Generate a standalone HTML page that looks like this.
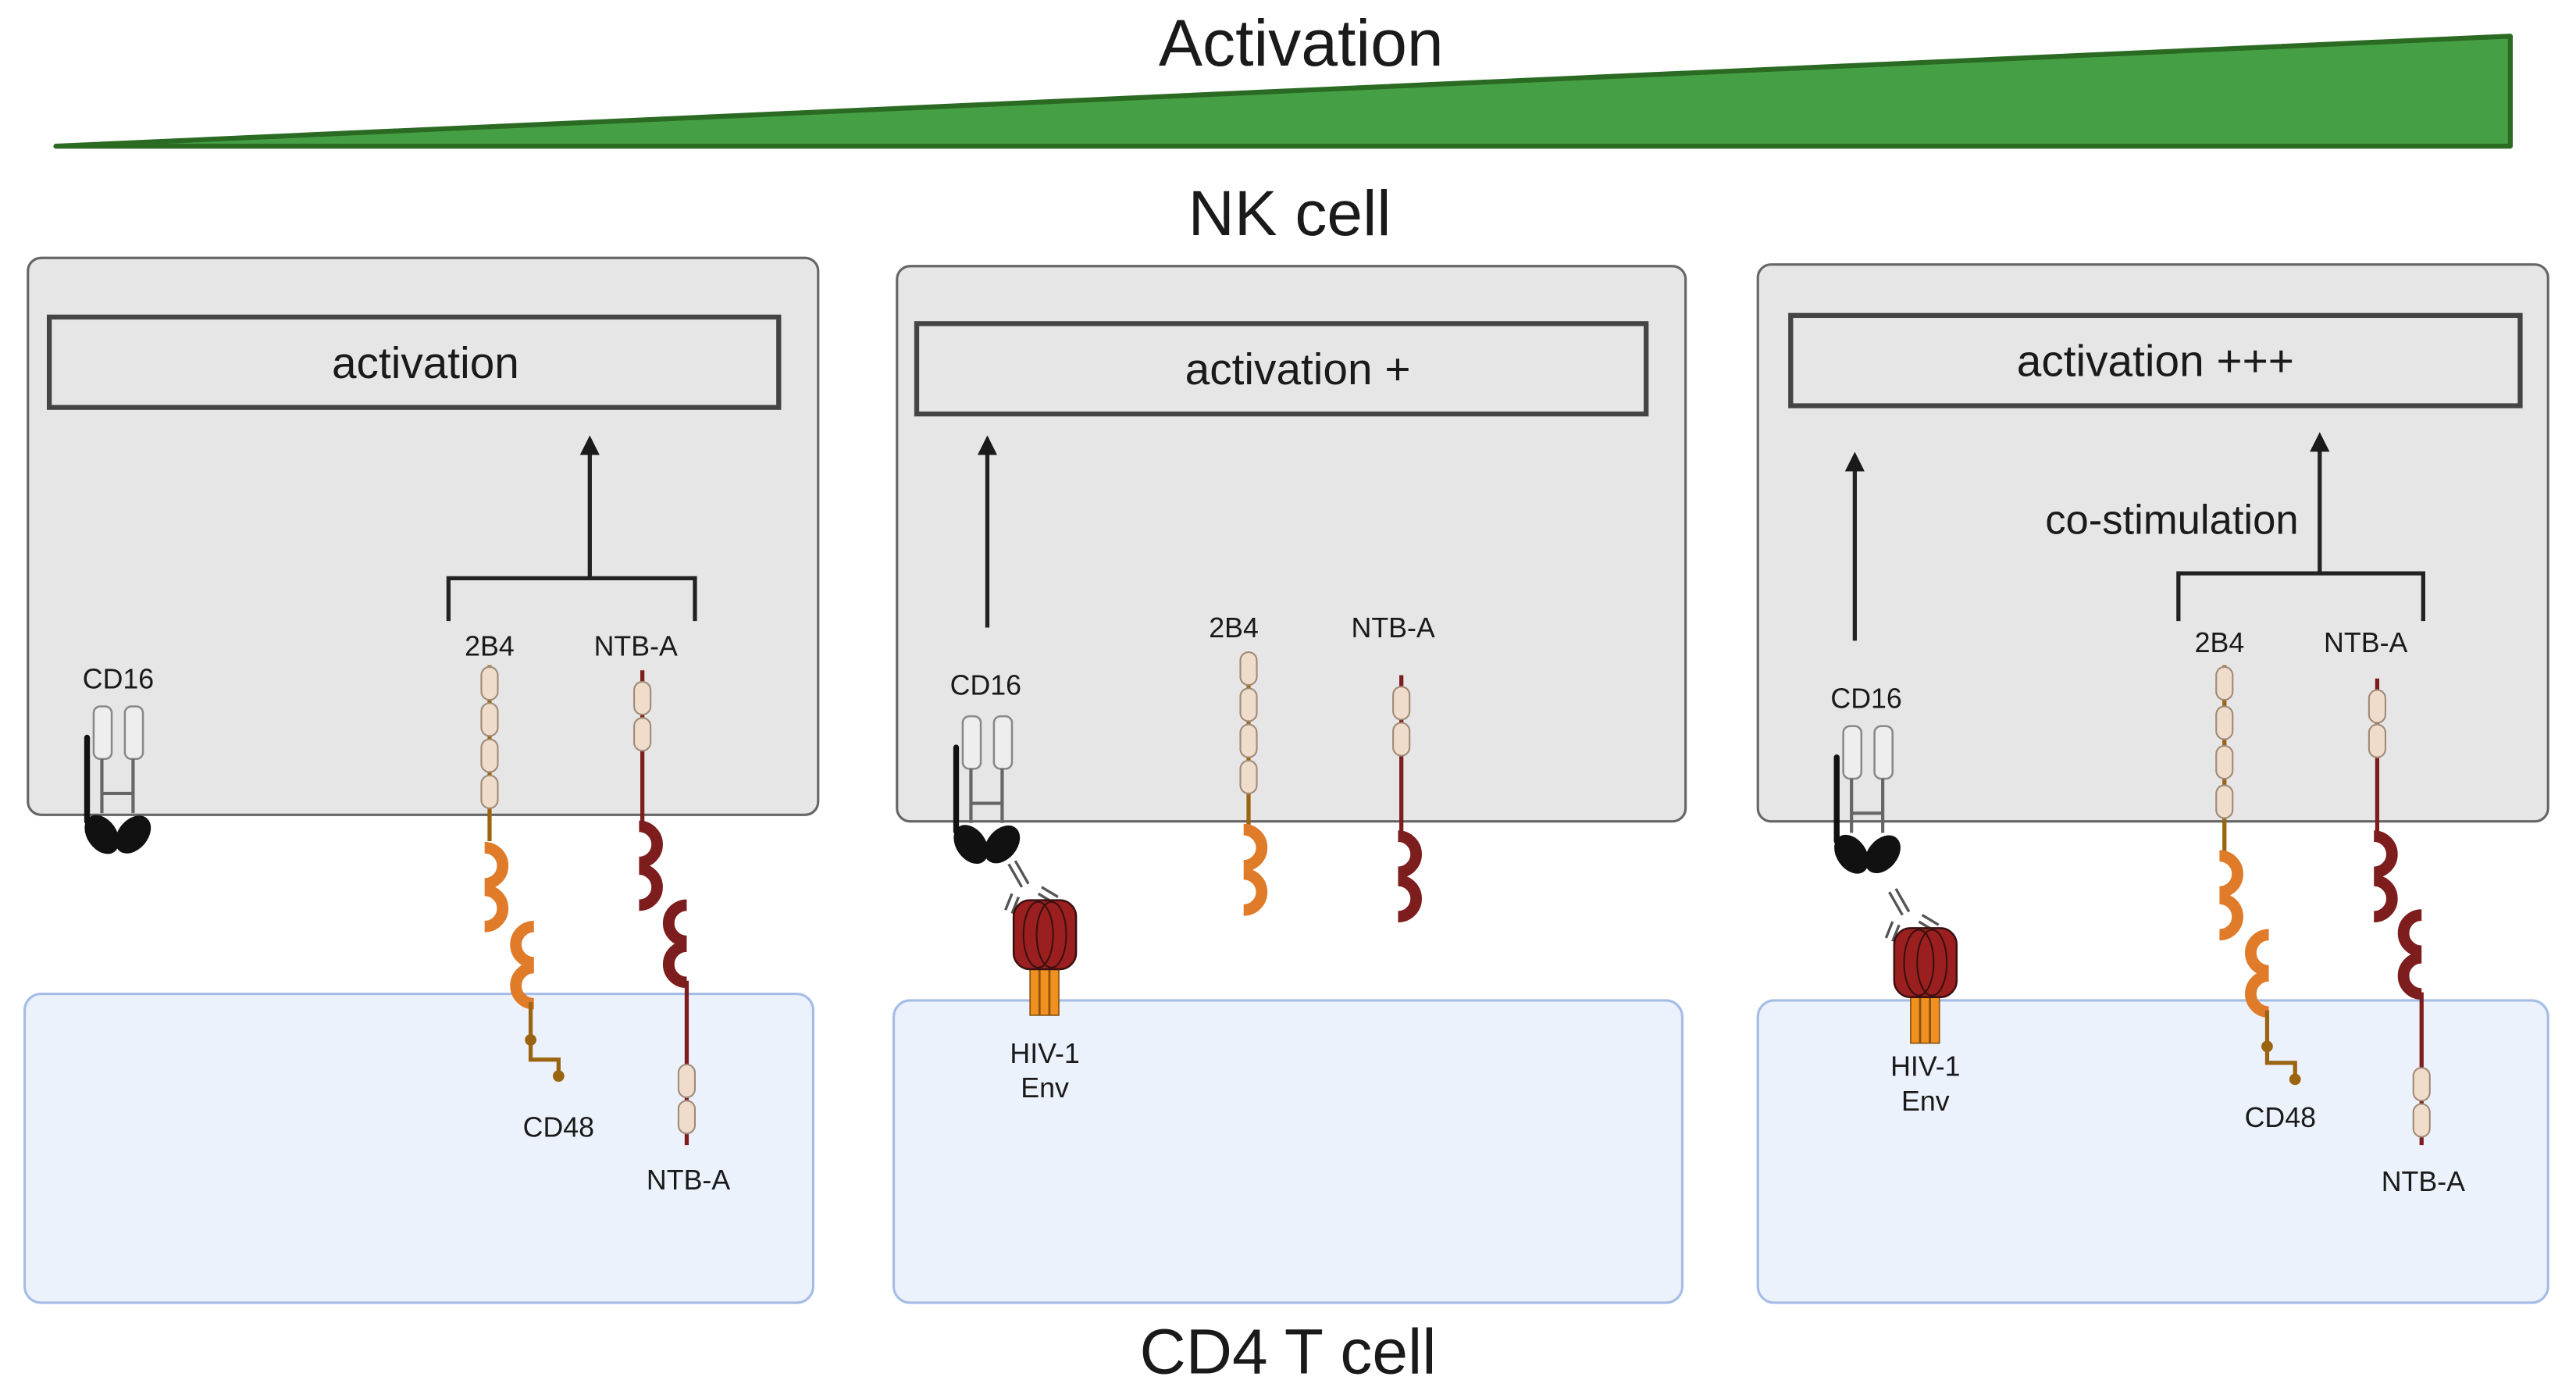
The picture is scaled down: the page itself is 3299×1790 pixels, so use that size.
<!DOCTYPE html>
<html><head><meta charset="utf-8"><style>
html,body{margin:0;padding:0;background:#fff;}
svg{display:block;}
text{font-family:"Liberation Sans",sans-serif;fill:#1a1a1a;}
</style></head><body>
<svg width="3299" height="1790" viewBox="0 0 1568 851" preserveAspectRatio="none" xmlns="http://www.w3.org/2000/svg">
<defs>
<marker id="ah" markerWidth="12" markerHeight="12" refX="5" refY="6" orient="auto" markerUnits="userSpaceOnUse">
<path d="M0,0 L12,6 L0,12 Z" fill="#1a1a1a"/></marker>
<g id="bead"><rect x="-5" y="-10" width="10" height="20" rx="5" fill="#efdccb" stroke="#a08a78" stroke-width="1"/></g>
<g id="cd16">
<rect x="-14" y="-75" width="11" height="32" rx="4" fill="#eee" stroke="#888" stroke-width="1.2"/>
<rect x="5" y="-75" width="11" height="32" rx="4" fill="#eee" stroke="#888" stroke-width="1.2"/>
<path d="M-9,-43 V-10 M10,-43 V-10 M-9,-22 H10" stroke="#666" stroke-width="2" fill="none"/>
<path d="M-18,-56 V-5" stroke="#111" stroke-width="3.5" stroke-linecap="round"/>
<ellipse cx="-9" cy="3" rx="9" ry="13" transform="rotate(-35 -9 3)" fill="#111"/>
<ellipse cx="10" cy="3" rx="9" ry="13" transform="rotate(40 10 3)" fill="#111"/>
</g>
<g id="hiv">
<path d="M-22,-22 L-14,-8 M-18,-24 L-10,-10 M-4,-4 L6,2 M-2,-8 L8,-2 M-20,-4 L-24,6 M-16,-2 L-20,8" stroke="#555" stroke-width="1.6" fill="none"/>
<rect x="-9" y="40" width="5.5" height="30" fill="#f0901e" stroke="#8a5210" stroke-width="0.8"/>
<rect x="-3" y="40" width="5.5" height="30" fill="#f0901e" stroke="#8a5210" stroke-width="0.8"/>
<rect x="3" y="40" width="5.5" height="30" fill="#f0901e" stroke="#8a5210" stroke-width="0.8"/>
<rect x="-19" y="0" width="38" height="42" rx="10" fill="#9b1f1f" stroke="#3a1010" stroke-width="1.2"/>
<ellipse cx="-4" cy="21" rx="9" ry="20" fill="none" stroke="#3a1010" stroke-width="1"/>
<ellipse cx="4" cy="21" rx="9" ry="20" fill="none" stroke="#3a1010" stroke-width="1"/>
</g>
</defs>

<polygon points="34,89 1528,22 1528,89" fill="#45a045" stroke="#2a6a22" stroke-width="3" stroke-linejoin="round"/>
<text x="792" y="40" font-size="40" text-anchor="middle">Activation</text>
<text x="785" y="143" font-size="39" text-anchor="middle">NK cell</text>
<text x="784" y="836" font-size="39" text-anchor="middle">CD4 T cell</text>

<rect x="15" y="605" width="480" height="188" rx="10" fill="#ecf2fb" stroke="#a5bde6" stroke-width="1.5"/>
<rect x="544" y="609" width="480" height="184" rx="10" fill="#ecf2fb" stroke="#a5bde6" stroke-width="1.5"/>
<rect x="1070" y="609" width="481" height="184" rx="10" fill="#ecf2fb" stroke="#a5bde6" stroke-width="1.5"/>

<rect x="17" y="157" width="481" height="339" rx="8" fill="#e6e6e6" stroke="#666" stroke-width="1.5"/>
<rect x="546" y="162" width="480" height="338" rx="8" fill="#e6e6e6" stroke="#666" stroke-width="1.5"/>
<rect x="1070" y="161" width="481" height="339" rx="8" fill="#e6e6e6" stroke="#666" stroke-width="1.5"/>

<rect x="30" y="193" width="444" height="55" fill="#e6e6e6" stroke="#444" stroke-width="3"/>
<text x="259" y="230" font-size="27" text-anchor="middle">activation</text>
<rect x="558" y="197" width="444" height="55" fill="#e6e6e6" stroke="#444" stroke-width="3"/>
<text x="790" y="234" font-size="27" text-anchor="middle">activation +</text>
<rect x="1090" y="192" width="444" height="55" fill="#e6e6e6" stroke="#444" stroke-width="3"/>
<text x="1312" y="229" font-size="27" text-anchor="middle">activation +++</text>

<!-- Panel 1 -->
<path d="M273,378 V352 H423 V378 M359,352 V272" stroke="#222" stroke-width="2.5" fill="none" marker-end="url(#ah)"/>
<text x="298" y="399" font-size="17" text-anchor="middle">2B4</text>
<text x="387" y="399" font-size="17" text-anchor="middle">NTB-A</text>
<text x="72" y="419" font-size="17" text-anchor="middle">CD16</text>
<use href="#cd16" x="71" y="505"/>
<path d="M298,405 V512" stroke="#9a6410" stroke-width="2.5"/>
<use href="#bead" x="298" y="416"/><use href="#bead" x="298" y="438"/><use href="#bead" x="298" y="460"/><use href="#bead" x="298" y="482"/>
<path d="M295,516 A11,11 0 0 1 295,538 M295,542 A11,11 0 0 1 295,564" stroke="#e07b2a" stroke-width="7" fill="none"/>
<path d="M325,564 A11,11 0 0 0 325,586 M325,589 A11,11 0 0 0 325,611" stroke="#e07b2a" stroke-width="7" fill="none"/>
<path d="M323,610 V645 H340 V655" stroke="#9a6410" stroke-width="2.5" fill="none"/>
<circle cx="323" cy="633" r="3.5" fill="#9a6410"/><circle cx="340" cy="655" r="3.5" fill="#9a6410"/>
<text x="340" y="692" font-size="17" text-anchor="middle">CD48</text>
<path d="M391,408 V504" stroke="#7d1d1d" stroke-width="2.5"/>
<use href="#bead" x="391" y="425"/><use href="#bead" x="391" y="447"/>
<path d="M389,503 A11,11 0 0 1 389,525 M389,529 A11,11 0 0 1 389,551" stroke="#7d1d1d" stroke-width="7" fill="none"/>
<path d="M418,551 A11,11 0 0 0 418,573 M418,576 A11,11 0 0 0 418,598" stroke="#7d1d1d" stroke-width="7" fill="none"/>
<path d="M418,597 V697" stroke="#7d1d1d" stroke-width="2.5"/>
<use href="#bead" x="418" y="658"/><use href="#bead" x="418" y="680"/>
<text x="419" y="724" font-size="17" text-anchor="middle">NTB-A</text>

<!-- Panel 2 -->
<path d="M601,382 V272" stroke="#222" stroke-width="2.5" fill="none" marker-end="url(#ah)"/>
<text x="600" y="423" font-size="17" text-anchor="middle">CD16</text>
<use href="#cd16" x="600" y="511"/>
<text x="751" y="388" font-size="17" text-anchor="middle">2B4</text>
<text x="848" y="388" font-size="17" text-anchor="middle">NTB-A</text>
<path d="M760,398 V506" stroke="#9a6410" stroke-width="2.5"/>
<use href="#bead" x="760" y="407"/><use href="#bead" x="760" y="429"/><use href="#bead" x="760" y="451"/><use href="#bead" x="760" y="473"/>
<path d="M757,505 A11,11 0 0 1 757,527 M757,532 A11,11 0 0 1 757,554" stroke="#e07b2a" stroke-width="7" fill="none"/>
<path d="M853,411 V510" stroke="#7d1d1d" stroke-width="2.5"/>
<use href="#bead" x="853" y="428"/><use href="#bead" x="853" y="450"/>
<path d="M851,509 A11,11 0 0 1 851,531 M851,536 A11,11 0 0 1 851,558" stroke="#7d1d1d" stroke-width="7" fill="none"/>
<use href="#hiv" x="636" y="548"/>
<text x="636" y="647" font-size="17" text-anchor="middle">HIV-1</text>
<text x="636" y="668" font-size="17" text-anchor="middle">Env</text>

<!-- Panel 3 -->
<path d="M1129,390 V282" stroke="#222" stroke-width="2.5" fill="none" marker-end="url(#ah)"/>
<path d="M1326,378 V349 H1475 V378 M1412,349 V270" stroke="#222" stroke-width="2.5" fill="none" marker-end="url(#ah)"/>
<text x="1322" y="325" font-size="25" text-anchor="middle">co-stimulation</text>
<text x="1136" y="431" font-size="17" text-anchor="middle">CD16</text>
<use href="#cd16" x="1136" y="517"/>
<text x="1351" y="397" font-size="17" text-anchor="middle">2B4</text>
<text x="1440" y="397" font-size="17" text-anchor="middle">NTB-A</text>
<path d="M1354,405 V518" stroke="#9a6410" stroke-width="2.5"/>
<use href="#bead" x="1354" y="416"/><use href="#bead" x="1354" y="440"/><use href="#bead" x="1354" y="464"/><use href="#bead" x="1354" y="488"/>
<path d="M1351,521 A11,11 0 0 1 1351,543 M1351,547 A11,11 0 0 1 1351,569" stroke="#e07b2a" stroke-width="7" fill="none"/>
<path d="M1381,569 A11,11 0 0 0 1381,591 M1381,594 A11,11 0 0 0 1381,616" stroke="#e07b2a" stroke-width="7" fill="none"/>
<path d="M1380,615 V647 H1397 V657" stroke="#9a6410" stroke-width="2.5" fill="none"/>
<circle cx="1380" cy="637" r="3.5" fill="#9a6410"/><circle cx="1397" cy="657" r="3.5" fill="#9a6410"/>
<text x="1388" y="686" font-size="17" text-anchor="middle">CD48</text>
<path d="M1447,413 V510" stroke="#7d1d1d" stroke-width="2.5"/>
<use href="#bead" x="1447" y="430"/><use href="#bead" x="1447" y="451"/>
<path d="M1445,509 A11,11 0 0 1 1445,531 M1445,536 A11,11 0 0 1 1445,558" stroke="#7d1d1d" stroke-width="7" fill="none"/>
<path d="M1474,557 A11,11 0 0 0 1474,579 M1474,583 A11,11 0 0 0 1474,605" stroke="#7d1d1d" stroke-width="7" fill="none"/>
<path d="M1474,604 V697" stroke="#7d1d1d" stroke-width="2.5"/>
<use href="#bead" x="1474" y="660"/><use href="#bead" x="1474" y="682"/>
<text x="1475" y="725" font-size="17" text-anchor="middle">NTB-A</text>
<use href="#hiv" x="1172" y="565"/>
<text x="1172" y="655" font-size="17" text-anchor="middle">HIV-1</text>
<text x="1172" y="676" font-size="17" text-anchor="middle">Env</text>
</svg>
</body></html>
